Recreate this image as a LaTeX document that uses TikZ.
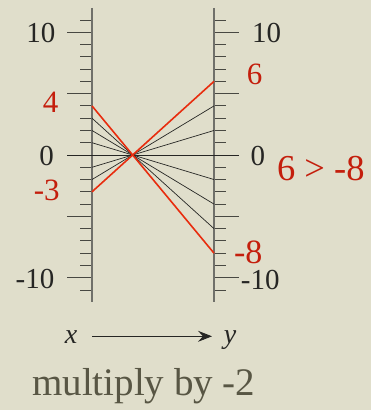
\documentclass[tikz,border=0pt]{standalone}
\usepackage{fontspec}
\setmainfont{Liberation Serif}
\usetikzlibrary{arrows.meta}
\definecolor{bg}{RGB}{224,222,203}
\definecolor{axisgray}{RGB}{112,112,106}
\definecolor{tickc}{RGB}{72,72,66}
\definecolor{lred}{RGB}{232,44,14}
\definecolor{tred}{RGB}{196,30,12}
\definecolor{ink}{RGB}{38,38,36}
\definecolor{olive}{RGB}{88,86,68}
\tikzset{
  axisline/.style={draw=axisgray, line width=1.6pt},
  tickline/.style={draw=tickc, line width=0.9pt},
  mapline/.style={draw=ink, line width=0.7pt},
  redline/.style={draw=lred, line width=1.6pt},
  blab/.style={text=ink, inner sep=0pt, font=\fontsize{29}{30}\selectfont},
  rlab/.style={text=tred, inner sep=0pt, font=\fontsize{31}{32}\selectfont},
  rbig/.style={text=tred, inner sep=0pt, font=\fontsize{36.5}{38}\selectfont},
  varlab/.style={text=ink, inner sep=0pt, anchor=base, font=\fontsize{28}{30}\selectfont\itshape},
}
\begin{document}
\begin{tikzpicture}[x=1pt,y=-1pt]
\fill[bg] (0,0) rectangle (371,410);
\useasboundingbox (0,0) rectangle (371,410);
% coordinates on the two axes
\foreach \v in {-12,...,12} {
  \coordinate (L\v) at (92,{155-12.27*\v});
  \coordinate (R\v) at (214,{155-12.27*\v});
}
% ticks
\foreach \v in {-11,...,-1,1,2,...,11} {
  \draw[tickline] (L\v) -- ++(-12,0);
  \draw[tickline] (R\v) -- ++(12,0);
}
\foreach \v in {-10,-5,5,10} {
  \draw[tickline] (L\v) -- ++(-25,0);
  \draw[tickline] (R\v) -- ++(25,0);
}
% axes
\draw[axisline] (L12) -- (L-12);
\draw[axisline] (R12) -- (R-12);
% zero line with its major ticks
\draw[mapline] ([xshift=-25pt]L0) -- ([xshift=25pt]R0);
% mapping lines
\foreach \a in {-2,-1,1,2,3} {
  \pgfmathtruncatemacro\bb{-2*\a}
  \draw[mapline] (L\a) -- (R\bb);
}
\draw[redline] (L4) -- (R-8);
\draw[redline] (L-3) -- (R6);
% axis labels
\node[blab] (l10) at (40.8,32.5) {10};
\node[blab] (l0) at (46.7,155.7) {0};
\node[blab] (lm10) at (35,279) {-10};
\node[blab] (r10) at (266.7,32.8) {10};
\node[blab] (r0) at (257.8,156) {0};
\node[blab] (rm10) at (260.3,279.5) {-10};
% red labels
\node[rlab] (l4) at (50.5,102.3) {4};
\node[rlab] (lm3) at (46.7,190) {-3};
\node[rlab] (r6) at (254.5,74.5) {6};
\node[rlab, font=\fontsize{34}{36}\selectfont] (rm8) at (248.3,252) {-8};
\node[rbig] (cmp) at (320.8,168.3) {6 > -8};
% arrow x -> y
\node[varlab] (vx) at (71,343) {x};
\node[varlab] (vy) at (230,343) {y};
\coordinate (as) at (92,336.3);
\coordinate (ae) at (212,336.3);
\draw[draw=ink, line width=0.9pt, -{Stealth[length=14pt,width=11pt,inset=5pt]}] (as) -- (ae);
% caption
\node[text=olive, inner sep=0pt, anchor=base, font=\fontsize{39}{40}\selectfont] (cap) at (143.8,395) {multiply by -2};
\end{tikzpicture}
\end{document}
